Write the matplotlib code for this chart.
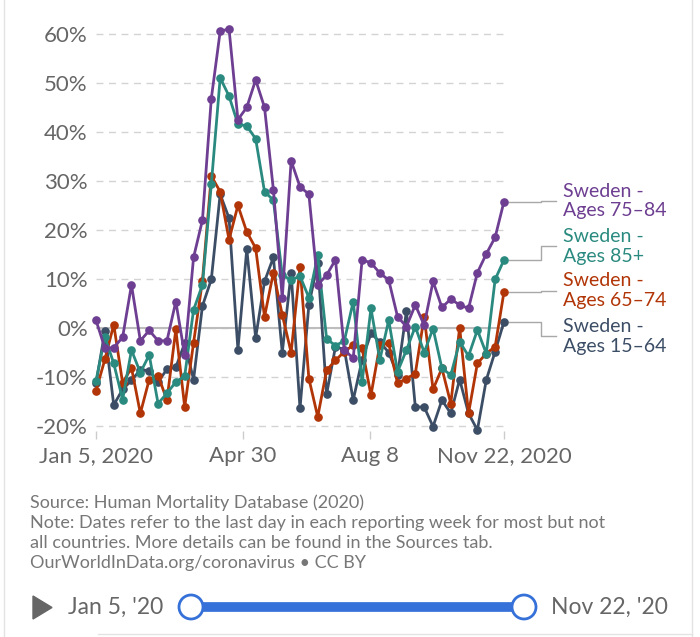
import matplotlib.pyplot as plt
import matplotlib.transforms as mtransforms
from matplotlib.patches import Circle, Polygon
import pandas as pd

plt.rcParams['font.family'] = ['Lato', 'DejaVu Sans']

# weekly dates, Jan 5 to Nov 22 2020
dates = pd.date_range('2020-01-05', '2020-11-22', freq='7D')

ages_75_84 = [1.6, -4.1, -4.0, -1.9, 8.8, -2.6, -0.5, -2.6, -2.6, 5.4,
              -5.5, 14.4, 22.0, 46.8, 60.5, 61.0, 42.5, 45.0, 50.6, 45.0,
              28.2, 6.1, 34.1, 28.8, 27.3, 8.8, 10.8, 13.9, -4.4, -6.2,
              13.9, 13.3, 11.2, 9.8, 2.3, 0.3, 4.7, 0.6, 9.5, 4.2,
              5.9, 4.7, 4.0, 11.3, 15.1, 18.5, 25.8]
ages_85p = [-10.8, -1.8, -7.2, -14.6, -4.5, -9.1, -5.5, -15.4, -13.3, -11.0,
            -9.8, 3.7, 8.8, 29.3, 51.0, 47.3, 41.6, 41.2, 38.6, 27.8,
            26.1, 10.8, 9.8, 10.6, 6.2, 14.8, -2.2, -3.6, -2.6, 5.4,
            -11.0, 4.0, -6.5, 1.6, -8.9, -4.5, 0.3, -5.0, -0.1, -8.2,
            -9.6, -2.8, -5.7, -0.4, -5.2, 9.9, 13.9]
ages_65_74 = [-12.8, -6.4, 0.7, -11.2, -8.1, -17.4, -10.5, -9.7, -14.7, -0.3,
              -16.1, -3.0, 9.6, 31.0, 27.8, 18.0, 25.0, 19.6, 16.3, 2.3,
              11.3, 2.7, -5.0, 12.5, -10.3, -18.1, -8.6, -6.6, -4.8, -3.5,
              -4.1, -13.7, -3.5, -3.1, -11.3, -10.3, -9.3, 2.3, -12.5, -8.2,
              -15.4, 0.1, -17.4, -7.2, -5.2, -3.8, 7.4]
ages_15_64 = [-11.3, -0.7, -15.7, -12.5, -10.7, -8.5, -8.7, -11.0, -8.4, -8.0,
              -3.1, -10.5, 4.5, 9.9, 27.3, 22.4, -4.4, 16.1, -2.0, 9.5,
              14.4, -5.0, 11.3, -16.4, 4.7, 13.3, -13.5, -3.8, -4.4, -14.7,
              -6.5, -1.1, -2.8, -5.0, -9.6, 3.5, -16.1, -16.1, -20.1, -14.7,
              -17.4, -10.5, -17.4, -20.8, -10.6, -4.8, 1.3]

series_names = ['Sweden -\nAges 15–64', 'Sweden -\nAges 65–74',
                'Sweden -\nAges 85+', 'Sweden -\nAges 75–84']
series_values = [ages_15_64, ages_65_74, ages_85p, ages_75_84]
colors = ['#3C4E66', '#B13507', '#2A8A80', '#6D3E91']
label_y = [-1.7, 7.6, 16.7, 25.9]

y_ticks = list(range(-20, 61, 10))
x_ticks = pd.to_datetime(['2020-01-05', '2020-04-30', '2020-08-08', '2020-11-22'])
x_labels = ['Jan 5, 2020', 'Apr 30', 'Aug 8', 'Nov 22, 2020']

fig = plt.figure(figsize=(7, 6.37), dpi=100)
ax = fig.add_axes([96 / 700, 1 - 431 / 637, 408 / 700, 407 / 637])

ax.set_xlim(dates[0], dates[-1])
ax.set_ylim(-21, 62)
ax.set_yticks(y_ticks)
ax.set_yticklabels([f'{v}%' for v in y_ticks])
ax.set_xticks(x_ticks)
ax.set_xticklabels(x_labels)
ax.tick_params(axis='y', length=0, pad=6, labelsize=16, labelcolor='#666666')
ax.tick_params(axis='x', length=6, width=1, color='#cccccc', pad=5,
               labelsize=16, labelcolor='#666666')
for s in ax.spines.values():
    s.set_visible(False)
ax.grid(axis='y', linestyle=(0, (5, 4)), color='#d3d3d3', linewidth=1)
ax.set_axisbelow(True)
ax.axhline(0, color='#bdbdbd', linewidth=1.5, zorder=1)

# 画线
for vals, c in zip(series_values, colors):
    ax.plot(dates, vals, color=c, linewidth=2.0, marker='o', markersize=5.2,
            clip_on=False, zorder=3)

# 右侧标签和连接线
trans = mtransforms.blended_transform_factory(ax.transAxes, ax.transData)
for vals, name, c, ly in zip(series_values, series_names, colors, label_y):
    end = vals[-1]
    ax.plot([1.012, 1.09, 1.09, 1.127], [end, end, ly, ly], transform=trans,
            color='#a8a8a8', linewidth=1, clip_on=False)
    ax.text(1.145, ly, name, transform=trans, color=c, fontsize=14,
            va='center', ha='left', linespacing=1.2)

# 来源说明
notes = ['Source: Human Mortality Database (2020)',
         'Note: Dates refer to the last day in each reporting week for most but not',
         'all countries. More details can be found in the Sources tab.',
         'OurWorldInData.org/coronavirus • CC BY']
for k, t in enumerate(notes):
    fig.text(30 / 700, 1 - (503 + 20 * k) / 637, t, fontsize=13,
             color='#777777', va='center', ha='left')

# 时间轴控件
ov = fig.add_axes([0, 0, 1, 1], zorder=-1)
ov.set_xlim(0, 700)
ov.set_ylim(637, 0)
ov.axis('off')
ov.add_patch(Polygon([(33, 596), (33, 619), (52, 607.5)], closed=True,
                     color='#666666'))
ov.text(68, 607, "Jan 5, '20", fontsize=16.5, color='#666666', va='center')
ov.text(551, 607, "Nov 22, '20", fontsize=16.5, color='#666666', va='center')
ov.plot([191, 524], [607, 607], color='#3571D8', linewidth=7,
        solid_capstyle='butt')
for cx in (191, 524):
    ov.add_patch(Circle((cx, 607), 12, facecolor='white', edgecolor='#3571D8',
                        linewidth=2, zorder=5))
ov.plot([4, 4], [0, 637], color='#e3e3e3', linewidth=1)
ov.plot([692, 692], [0, 637], color='#e3e3e3', linewidth=1)
ov.plot([98, 692], [634, 634], color='#e3e3e3', linewidth=1)

plt.savefig('out.png', dpi=100)
